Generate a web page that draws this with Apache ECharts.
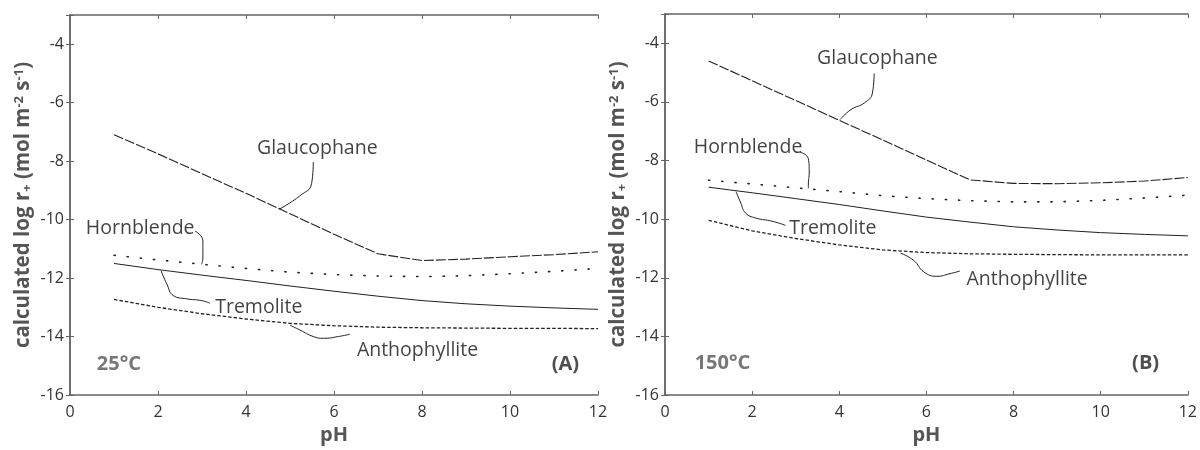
<!DOCTYPE html>
<html><head><meta charset="utf-8">
<script src="https://cdn.jsdelivr.net/npm/echarts@6/dist/echarts.min.js"></script>
<style>html,body{margin:0;padding:0;background:#fff}#c{width:1200px;height:450px}</style>
</head><body><div id="c"></div>
<script>
// ---- data ----
const pH = [1,2,3,4,5,6,7,8,9,10,11,12];
// 25 °C (A)
const glauc25 = [-7.1,-7.75,-8.43,-9.1,-9.8,-10.5,-11.17,-11.4,-11.35,-11.27,-11.2,-11.1];
const hornb25 = [-11.22,-11.38,-11.53,-11.67,-11.8,-11.88,-11.93,-11.95,-11.92,-11.85,-11.77,-11.67];
const tremo25 = [-11.5,-11.71,-11.9,-12.08,-12.27,-12.45,-12.62,-12.77,-12.88,-12.96,-13.02,-13.07];
const antho25 = [-12.73,-13.0,-13.22,-13.4,-13.55,-13.63,-13.68,-13.7,-13.71,-13.72,-13.72,-13.73];
// 150 °C (B)
const glauc150 = [-4.6,-5.28,-5.95,-6.63,-7.3,-7.98,-8.66,-8.78,-8.79,-8.76,-8.7,-8.58];
const hornb150 = [-8.67,-8.8,-8.93,-9.06,-9.2,-9.3,-9.37,-9.41,-9.41,-9.36,-9.28,-9.18];
const tremo150 = [-8.91,-9.1,-9.3,-9.5,-9.72,-9.93,-10.1,-10.26,-10.37,-10.46,-10.52,-10.57];
const antho150 = [-10.04,-10.4,-10.66,-10.88,-11.05,-11.14,-11.18,-11.2,-11.21,-11.22,-11.22,-11.22];
// axis ticks
const xTicks = [0,2,4,6,8,10,12];
const yTicks = [-16,-14,-12,-10,-8,-6,-4];
// annotation texts [label, pH, value, align]
const notesA = [["Glaucophane",4.25,-7.55,"left"],["Hornblende",0.36,-10.29,"left"],["Tremolite",3.3,-12.99,"left"],["Anthophyllite",6.52,-14.48,"left"]];
const notesB = [["Glaucophane",3.49,-4.51,"left"],["Hornblende",0.66,-7.55,"left"],["Tremolite",2.85,-10.32,"left"],["Anthophyllite",6.92,-12.06,"left"]];
const tempA = ["25°C",0.61,-14.95], panelA = ["(A)",11.57,-14.95];
const tempB = ["150°C",0.68,-14.93], panelB = ["(B)",11.34,-14.92];
// leader curves (data coordinates)
const leadA = [
  [[4.75,-9.65],[5.23,-9.18],[5.49,-8.77],[5.53,-8.03]],
  [[2.84,-10.39],[3.02,-10.73],[3.02,-11.31],[2.99,-11.53]],
  [[2.07,-11.75],[2.2,-12.2],[2.35,-12.6],[2.65,-12.71],[2.99,-12.77],[3.18,-12.86]],
  [[5.0,-13.61],[5.23,-13.78],[5.53,-14.0],[5.76,-14.06],[6.1,-14.0],[6.36,-13.92]]
];
const leadB = [
  [[4.02,-6.6],[4.27,-6.26],[4.58,-6.03],[4.76,-5.7],[4.8,-5.03]],
  [[3.1,-7.71],[3.29,-7.94],[3.31,-8.39],[3.29,-8.84],[3.29,-8.95]],
  [[1.63,-9.06],[1.74,-9.45],[1.85,-9.79],[2.08,-9.96],[2.46,-10.07],[2.76,-10.21]],
  [[5.41,-11.16],[5.71,-11.41],[5.94,-11.8],[6.24,-11.95],[6.54,-11.86],[6.77,-11.77]]
];

// ---- chart ----
const FONT = "'Open Sans', 'Noto Sans', sans-serif";
const AX = '#666';
const chart = echarts.init(document.getElementById('c'), null, {renderer:'canvas'});
const grids = [
  {left:70, top:15, width:528, height:384},
  {left:665, top:14, width:529, height:386}
];
const xAxes = [], yAxes = [];
const yName = '{b|calculated log r}{sub|+}{b| (mol m}{sup|-2}{b| s}{sup|-1}{b|)}';
grids.forEach((g,i)=>{
  xAxes.push({gridIndex:i, type:'value', min:xTicks[0], max:xTicks[xTicks.length-1], interval:2,
    name:'pH', nameLocation:'middle', nameGap:30,
    nameTextStyle:{fontFamily:FONT, fontWeight:'bold', fontSize:20, color:'#555'},
    axisLine:{lineStyle:{color:AX, width:1.5}}, axisTick:{inside:true, length:4, lineStyle:{color:AX}},
    axisLabel:{color:'#333', fontSize:16, fontFamily:FONT, margin:9}, splitLine:{show:false}});
  xAxes.push({gridIndex:i, type:'value', position:'top', min:0, max:12, interval:2,
    axisLine:{lineStyle:{color:AX, width:1.5}}, axisTick:{inside:true, length:4, lineStyle:{color:AX}},
    axisLabel:{show:false}, splitLine:{show:false}});
  yAxes.push({gridIndex:i, type:'value', min:yTicks[0], max:-3, interval:2,
    name:yName, nameLocation:'middle', nameGap:36, nameRotate:90,
    nameTextStyle:{fontFamily:FONT, color:'#555', rich:{
      b:{fontFamily:FONT, fontWeight:'bold', fontSize:20.5, color:'#555'},
      sub:{fontFamily:FONT, fontWeight:'bold', fontSize:13, color:'#555', verticalAlign:'bottom', padding:[8,0,0,0]},
      sup:{fontFamily:FONT, fontWeight:'bold', fontSize:13, color:'#555', verticalAlign:'top', padding:[0,0,8,0]}
    }},
    axisLine:{show:true, lineStyle:{color:AX, width:1.5}}, axisTick:{show:true, inside:true, length:4, lineStyle:{color:AX}},
    axisLabel:{color:'#333', fontSize:16, fontFamily:FONT, margin:6,
      formatter: v => (yTicks.indexOf(v) >= 0 ? String(v) : '')}, splitLine:{show:false}});
  yAxes.push({gridIndex:i, type:'value', position:'right', min:-16, max:-3, interval:2,
    axisLine:{show:true, lineStyle:{color:AX, width:1.5}}, axisTick:{show:true, inside:true, length:4, lineStyle:{color:AX}},
    axisLabel:{show:false}, splitLine:{show:false}});
});

const zip = arr => pH.map((x,k)=>[x, arr[k]]);
const series = [];
function curve(gi, arr, dash, width){
  series.push({type:'line', xAxisIndex:gi*2, yAxisIndex:gi*2, data:zip(arr), smooth:false, symbol:'none',
    silent:true, lineStyle:{color:'#222', width:width, type:dash, cap:(Array.isArray(dash)&&dash[0]<2)?'round':'butt'}, z:3});
}
[[glauc25,hornb25,tremo25,antho25],[glauc150,hornb150,tremo150,antho150]].forEach((set,gi)=>{
  curve(gi,set[0],[10,2],1.1);
  curve(gi,set[1],[1.2,12],1.6);
  curve(gi,set[2],'solid',1);
  curve(gi,set[3],[3.5,2],1.3);
});
[leadA, leadB].forEach((leads,gi)=>{
  leads.forEach(l=>series.push({type:'line', xAxisIndex:gi*2, yAxisIndex:gi*2, data:l, smooth:0.5, symbol:'none',
    silent:true, lineStyle:{color:'#222', width:1}, z:4}));
});
function notes(gi, list, temp, panel){
  const data = list.map(n=>({value:[n[1],n[2]], label:{formatter:n[0], align:n[3], fontSize:19.5, fontFamily:FONT, color:'#111'}}));
  data.push({value:[temp[1],temp[2]], label:{formatter:temp[0], align:'left', fontSize:20, fontWeight:'bold', fontFamily:FONT, color:'#555'}});
  data.push({value:[panel[1],panel[2]], label:{formatter:panel[0], align:'right', fontSize:20, fontWeight:'bold', fontFamily:FONT, color:'#222'}});
  series.push({type:'scatter', xAxisIndex:gi*2, yAxisIndex:gi*2, symbolSize:0, silent:true, data:data,
    label:{show:true, position:'inside', verticalAlign:'middle'}, z:5});
}
notes(0, notesA, tempA, panelA);
notes(1, notesB, tempB, panelB);

chart.setOption({animation:false, backgroundColor:'#fff', grid:grids, xAxis:xAxes, yAxis:yAxes, series:series});
</script></body></html>
